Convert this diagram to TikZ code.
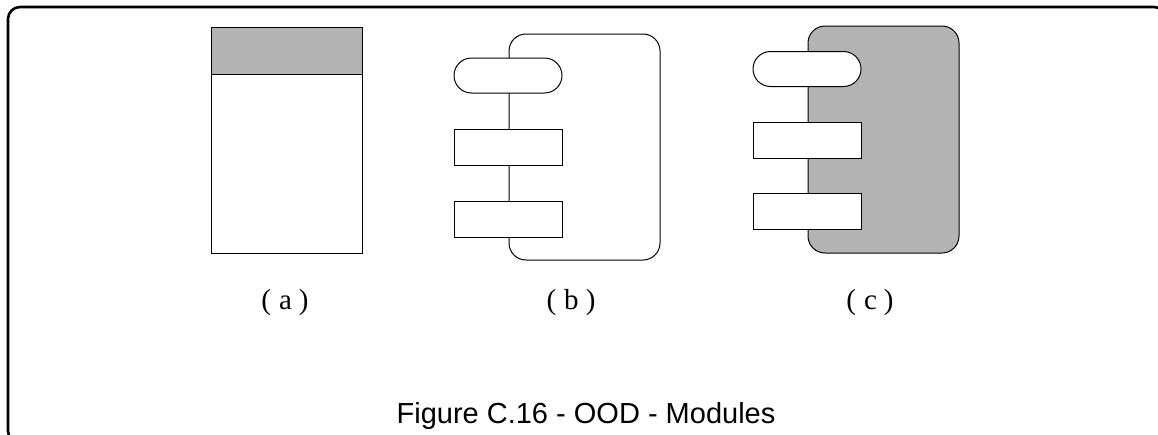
\documentclass[tikz,border=0pt]{standalone}
\usepackage{fontspec}
\setmainfont{Liberation Serif}
\newfontfamily\capfont{Liberation Sans}
\usetikzlibrary{shapes.misc}
\definecolor{shade}{HTML}{B3B3B3}
\newcommand{\sublabel}[1]{(\hspace{8pt}#1\hspace{7pt})}
\tikzset{
  frame/.style={line width=2.6pt, rounded corners=12pt},
  outl/.style={draw=black, line width=1pt},
  box/.style={outl, fill=white, rectangle, minimum width=108pt, minimum height=36pt, inner sep=0pt},
  pill/.style={outl, fill=white, rounded rectangle, minimum width=108pt, minimum height=35pt, inner sep=0pt},
  lbl/.style={font=\fontsize{29}{33}\selectfont, inner sep=0pt, anchor=base},
  captext/.style={font=\capfont\fontsize{29}{34}\selectfont, inner sep=0pt, anchor=base}
}
\begin{document}
\begin{tikzpicture}[x=1pt,y=-1pt]
\useasboundingbox (0,0) rectangle (1158,434);
\begin{scope}
\clip (0,0) rectangle (1158,434);
\draw[frame] (8,7) rectangle (1166,443);
\end{scope}
% (a)
\filldraw[outl, fill=shade] (211,27) rectangle (362,74);
\draw[outl] (211,74) rectangle (362,253);
\node[lbl] (la) at (285,309) {\sublabel{a}};
% (b)
\draw[outl, rounded corners=17pt] (509,34) rectangle (660,260);
\node[pill] (b1) at (508,75.5) {};
\node[box] (b2) at (508,147) {};
\node[box] (b3) at (508,219) {};
\node[lbl] (lb) at (571,309) {\sublabel{b}};
% (c)
\filldraw[outl, fill=shade, rounded corners=17pt] (808,26) rectangle (959,253);
\node[pill] (c1) at (807,69) {};
\node[box] (c2) at (807,140) {};
\node[box] (c3) at (807,211) {};
\node[lbl] (lc) at (870,309) {\sublabel{c}};
% caption
\node[captext] (caption) at (586,423) {Figure C.16 - OOD - Modules};
\end{tikzpicture}
\end{document}
